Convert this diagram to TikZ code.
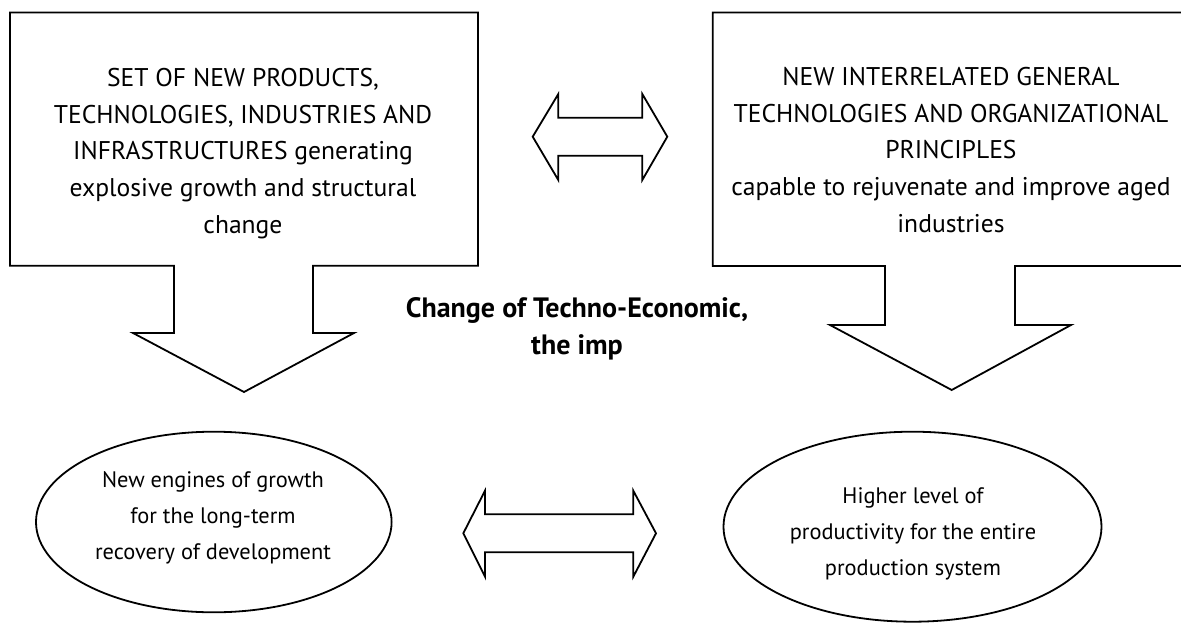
\documentclass[tikz,border=0pt]{standalone}
\usepackage{fontspec}
\setmainfont{PT Sans}
\usetikzlibrary{shapes.geometric}
\begin{document}
\begin{tikzpicture}[x=1pt,y=-1pt,line join=miter,
  outline/.style={draw=black,line width=1.8pt},
  boxtext/.style={align=center,inner sep=0pt,font=\fontsize{25.6}{36.8}\selectfont},
  ovaltext/.style={align=center,inner sep=0pt,font=\fontsize{22.4}{36.2}\selectfont},
  boldtext/.style={align=center,inner sep=0pt,font=\fontsize{28}{36.8}\selectfont\bfseries},
  oval/.style={ellipse,draw=black,line width=1.8pt,inner sep=0pt}]
\useasboundingbox (0,0) rectangle (1181,624);
\clip (0,0) rectangle (1181,624);

% left callout: box with downward arrow
\draw[outline] (10,12.5) -- (478,12.5) -- (478,265.7) -- (313,265.7) -- (313,333)
  -- (354,333) -- (244,392) -- (133,333) -- (174,333) -- (174,265.7) -- (10,265.7) -- cycle;
\node[boxtext] (products) at (243,153.5)
  {SET OF NEW PRODUCTS,\\TECHNOLOGIES, INDUSTRIES AND\\INFRASTRUCTURES generating\\explosive growth and structural\\change};

% right callout: box with downward arrow
\draw[outline] (712.7,12.5) -- (1195,12.5) -- (1195,266) -- (1015,266) -- (1015,325)
  -- (1071,325) -- (951.7,390) -- (830,325) -- (885,325) -- (885,266) -- (712.7,266) -- cycle;
\node[boxtext] (principles) at (951,150)
  {NEW INTERRELATED GENERAL\\TECHNOLOGIES AND ORGANIZATIONAL\\PRINCIPLES\\capable to rejuvenate and improve aged\\industries};

% upper double arrow
\draw[outline] (532.7,136.7) -- (558.3,94) -- (558.3,117.7) -- (642.3,117.7) -- (642.3,94)
  -- (667.3,136.7) -- (642.3,180) -- (642.3,155.7) -- (558.3,155.7) -- (558.3,180) -- cycle;

% central caption
\node[boldtext] (caption) at (577,329) {Change of Techno-Economic,\\the imp};

% ellipses
\node[oval,minimum width=355.6pt,minimum height=180.6pt] (engines) at (213.8,522) {};
\node[ovaltext] (enginestext) at (213,518)
  {New engines of growth\\for the long-term\\recovery of development};
\node[oval,minimum width=378pt,minimum height=190pt] (productivity) at (912.5,526.7) {};
\node[ovaltext] (productivitytext) at (913,534)
  {Higher level of\\productivity for the entire\\production system};

% lower double arrow
\draw[outline] (463.3,533.3) -- (485,490.7) -- (485,514.3) -- (633.3,514.3) -- (633.3,490.7)
  -- (656,533.3) -- (633.3,576.7) -- (633.3,552.3) -- (485,552.3) -- (485,576.7) -- cycle;
\end{tikzpicture}
\end{document}
